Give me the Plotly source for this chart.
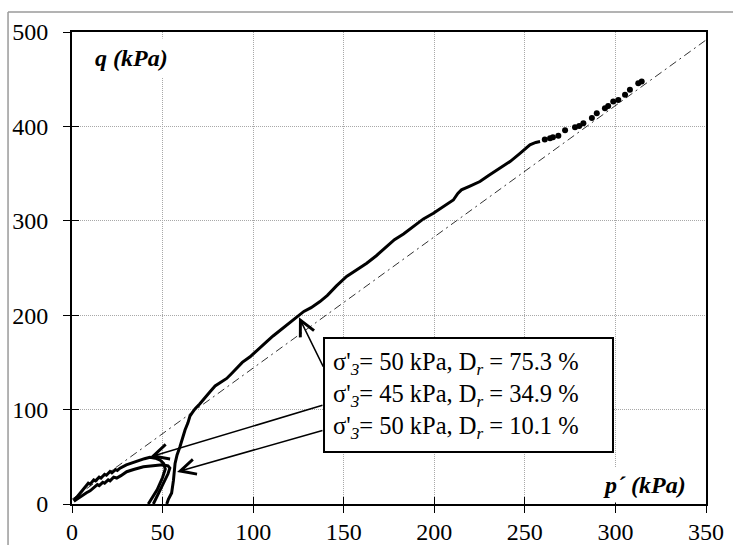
import plotly.graph_objects as go

# ---------------- data ----------------
# Dr = 75.3 %, sigma'3 = 50 kPa (continuous part)
a_p = [52.3, 53.2, 55.0, 56.0, 56.9, 58.0, 59.6, 61.0, 62.4, 64.0, 65.1, 66.5, 68.0, 70.5, 73.0,
       76.2, 79.0, 82.0, 85.4, 88.0, 91.0, 94.0, 98.3, 101.0, 104.0, 107.5, 111.0, 115.0, 118.5,
       122.0, 125.0, 128.0, 132.0, 136.9, 141.0, 146.0, 151.6, 157.0, 162.7, 168.0, 173.7, 178.0,
       183.0, 188.4, 194.0, 199.5, 205.0, 210.5, 213.0, 215.0, 220.0, 225.2, 230.0, 236.3, 242.0,
       247.0, 252.8, 256.0, 258.4]
a_q = [0.0, 5.0, 11.6, 25.0, 43.0, 52.0, 60.7, 70.0, 78.4, 86.0, 93.0, 97.0, 101.0, 106.0, 112.0,
       119.0, 125.0, 129.0, 133.0, 138.0, 144.0, 150.0, 156.0, 161.0, 166.0, 172.0, 178.0, 184.0,
       189.7, 195.0, 200.0, 204.0, 208.0, 214.4, 221.0, 231.0, 241.0, 248.0, 255.0, 263.0, 272.7,
       280.0, 286.0, 293.9, 302.0, 308.0, 315.0, 322.0, 329.0, 332.8, 337.0, 341.6, 348.0, 356.0,
       363.0, 371.0, 380.5, 383.0, 384.0]
# Dr = 75.3 % (sparse points at the end of the test)
d_p = [261.0, 263.9, 265.5, 268.5, 272.2, 277.7, 280.0, 282.3, 287.0, 289.7, 294.2, 296.0, 298.8,
       301.6, 305.3, 308.0, 312.6, 314.5]
d_q = [386.0, 387.5, 388.5, 390.0, 396.0, 399.0, 400.5, 403.4, 408.8, 414.0, 419.3, 421.5, 426.3,
       428.0, 433.4, 438.7, 445.8, 447.6]
# Dr = 34.9 %, sigma'3 = 45 kPa
b_p = [42.1, 44.0, 47.0, 50.0, 51.5, 50.5, 48.6, 46.0, 43.0, 40.0, 37.5, 34.0, 30.0, 26.5, 25.0,
       24.0, 22.0, 21.0, 19.0, 18.0, 16.0, 15.0, 13.0, 12.0, 10.0, 9.0, 7.0, 5.0, 3.0, 1.0]
b_q = [0.0, 6.0, 15.0, 28.0, 37.0, 43.0, 46.6, 48.5, 49.5, 48.0, 46.5, 44.0, 41.5, 38.0, 35.5,
       36.5, 33.0, 34.5, 30.5, 31.5, 27.5, 28.5, 24.5, 25.5, 21.0, 22.0, 17.0, 12.0, 8.0, 4.0]
# Dr = 10.1 %, sigma'3 = 50 kPa
c_p = [44.9, 46.5, 48.0, 51.0, 53.0, 54.0, 53.0, 50.0, 48.6, 44.0, 39.4, 34.0, 30.2, 27.0, 24.7,
       23.0, 21.0, 20.0, 18.0, 17.0, 15.0, 14.0, 12.0, 10.0, 8.0, 5.0, 3.0, 1.0]
c_q = [0.0, 6.0, 12.0, 24.0, 32.0, 38.0, 40.5, 41.5, 41.3, 40.5, 39.5, 36.5, 34.2, 30.0, 27.5,
       28.5, 24.5, 25.5, 22.0, 23.0, 19.5, 20.5, 17.0, 14.0, 12.0, 8.0, 5.5, 3.0]
# critical state line
csl_p = [0.0, 350.0]
csl_q = [5.0, 491.5]

x_ticks = [0, 50, 100, 150, 200, 250, 300, 350]
y_ticks = [0, 100, 200, 300, 400, 500]

legend_lines = [
    "σ'<sub><i>3</i></sub>= 50 kPa, D<sub><i>r</i></sub> = 75.3 %",
    "σ'<sub><i>3</i></sub>= 45 kPa, D<sub><i>r</i></sub> = 34.9 %",
    "σ'<sub><i>3</i></sub>= 50 kPa, D<sub><i>r</i></sub> = 10.1 %",
]
# arrow tip / tail (p', q) for each legend line
arrow_tips = [(125.3, 197.8), (43.1, 49.8), (58.0, 34.0)]
arrow_tails = [(139.1, 144.0), (139.1, 105.0), (139.1, 78.4)]

FONT = "Liberation Serif, Times New Roman, serif"

fig = go.Figure()
fig.add_trace(go.Scatter(x=csl_p, y=csl_q, mode="lines",
                         line=dict(color="#333333", width=1, dash="8px,4px,2px,4px"),
                         hoverinfo="skip", showlegend=False))
for px_, qy_ in [(b_p, b_q), (c_p, c_q), (a_p, a_q)]:
    fig.add_trace(go.Scatter(x=px_, y=qy_, mode="lines",
                             line=dict(color="black", width=3),
                             hoverinfo="skip", showlegend=False))
fig.add_trace(go.Scatter(x=d_p, y=d_q, mode="markers",
                         marker=dict(color="black", size=6),
                         hoverinfo="skip", showlegend=False))
# dummy trace so the overlaid (inside-tick) axes are drawn
fig.add_trace(go.Scatter(x=[0], y=[0], xaxis="x2", yaxis="y2", mode="markers",
                         marker=dict(opacity=0), hoverinfo="skip", showlegend=False))

axis_common = dict(showline=True, linecolor="black", linewidth=2, mirror=True,
                   showgrid=True, gridcolor="#a8a8a8", griddash="1px,1px", gridwidth=1,
                   zeroline=False, ticks="outside", ticklen=7, tickwidth=1, tickcolor="black",
                   automargin=False,
                   tickfont=dict(family=FONT, size=24, color="black"))

fig.update_layout(
    width=733, height=545,
    margin=dict(l=72, r=27, t=32, b=41, autoexpand=False),
    paper_bgcolor="white", plot_bgcolor="white",
    font=dict(family=FONT, color="black"),
    xaxis=dict(range=[0, 350], tickvals=x_ticks, ticklabelstandoff=-2, **axis_common),
    yaxis=dict(range=[0, 500], tickvals=y_ticks, ticklabelstandoff=10, **axis_common),
    xaxis2=dict(overlaying="x", matches="x", anchor="y2", range=[0, 350], tickvals=x_ticks,
                ticks="inside", ticklen=7, tickcolor="black", showticklabels=False,
                showgrid=False, zeroline=False, showline=False, automargin=False),
    yaxis2=dict(overlaying="y", matches="y", anchor="x2", range=[0, 500], tickvals=y_ticks,
                ticks="inside", ticklen=7, tickcolor="black", showticklabels=False,
                showgrid=False, zeroline=False, showline=False, automargin=False),
    showlegend=False,
)

shapes = [
    # legend box
    dict(type="rect", xref="paper", yref="paper", x0=0.3975, x1=0.8533, y0=0.110, y1=0.3517,
         line=dict(color="black", width=2), fillcolor="white", layer="above"),
    # outer chart-area border (left and top)
    dict(type="line", xref="paper", yref="paper", x0=-0.1009, x1=-0.1009, y0=-0.2, y1=1.0424,
         line=dict(color="#9a9a9a", width=1.5)),
    dict(type="line", xref="paper", yref="paper", x0=-0.1009, x1=1.1, y0=1.0424, y1=1.0424,
         line=dict(color="#9a9a9a", width=1.5)),
]
fig.update_layout(shapes=shapes)

ann = []
ann.append(dict(text="<b><i>q (kPa)</i></b>", xref="paper", yref="paper", x=0.0946, y=0.945,
                xanchor="center", yanchor="middle", showarrow=False, bgcolor="white",
                borderpad=6, font=dict(family=FONT, size=24, color="black")))
ann.append(dict(text="<b><i>p´ (kPa)</i></b>", xref="paper", yref="paper", x=0.903, y=0.04,
                xanchor="center", yanchor="middle", showarrow=False, bgcolor="white",
                borderpad=4, font=dict(family=FONT, size=24, color="black")))
for i, line in enumerate(legend_lines):
    ann.append(dict(text=line, xref="paper", yref="paper", x=0.4085,
                    y=[0.2987, 0.2309, 0.1631][i], xanchor="left", yanchor="middle",
                    showarrow=False, font=dict(family=FONT, size=24.5, color="black")))
for (tx, ty), (sx, sy) in zip(arrow_tips, arrow_tails):
    ann.append(dict(text="", x=tx, y=ty, ax=sx, ay=sy, xref="x", yref="y", axref="x", ayref="y",
                    showarrow=True, arrowhead=5, arrowsize=2, arrowwidth=1.5,
                    arrowcolor="black", standoff=0))
fig.update_layout(annotations=ann)

fig.write_html("out.html")
